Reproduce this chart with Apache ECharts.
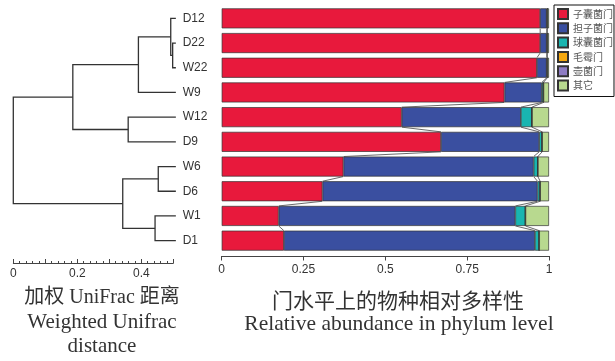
<!DOCTYPE html>
<html>
<head>
<meta charset="utf-8">
<script src="https://cdn.jsdelivr.net/npm/echarts@6/dist/echarts.min.js"></script>
<style>
html,body{margin:0;padding:0;background:#fff;}
#chart{width:615px;height:361px;}
</style>
</head>
<body>
<div id="chart"></div>
<script>
// ---- data ----
var samples = ['D12','D22','W22','W9','W12','D9','W6','D6','W1','D1'];
var phylumNames = ['子囊菌门','担子菌门','球囊菌门','毛霉门','壶菌门','其它'];
var phylumColors = ['#E8193C','#3A4FA0','#19B5B0','#F5A80F','#8E7CC3','#B8D98F'];
var ascomycota    = [0.973,0.973,0.963,0.864,0.550,0.670,0.372,0.308,0.174,0.190];
var basidiomycota = [0.020,0.020,0.030,0.114,0.364,0.300,0.581,0.657,0.723,0.767];
var glomeromycota = [0.002,0.002,0.002,0.005,0.034,0.009,0.013,0.008,0.031,0.013];
var mucoromycota  = [0,0,0,0,0,0,0,0,0,0];
var chytridiomycota = [0,0,0,0,0,0,0,0,0,0];
var others        = [0.005,0.005,0.005,0.017,0.052,0.021,0.034,0.027,0.072,0.030];
var phylumSeries = [ascomycota, basidiomycota, glomeromycota, mucoromycota, chytridiomycota, others];

// dendrogram (node ids: leaves 0..9 in sample order, merges 10..18)
var leafDistance = 0.508;
var mergeLeft   = [1, 0, 11, 4, 12, 6, 8, 15, 14];
var mergeRight  = [2, 10, 3, 5, 13, 7, 9, 16, 17];
var mergeHeight = [0.498, 0.492, 0.391, 0.359, 0.186, 0.453, 0.443, 0.342, 0.0];
var distTicks = [0, 0.2, 0.4];

// ---- helpers ----
var nodeY = [], nodeX = [];
for (var i = 0; i < samples.length; i++) { nodeY.push(i); nodeX.push(leafDistance); }
for (var m = 0; m < mergeHeight.length; m++) {
  nodeY.push((nodeY[mergeLeft[m]] + nodeY[mergeRight[m]]) / 2);
  nodeX.push(mergeHeight[m]);
}
function cumAt(sampleIdx, upto) {
  var s = 0;
  for (var k = 0; k <= upto; k++) s += phylumSeries[k][sampleIdx];
  return s;
}

var chart = echarts.init(document.getElementById('chart'), null, {renderer:'canvas'});
var axisCol = '#444';
var series = [];
phylumNames.forEach(function(name, k){
  series.push({
    name: name, type: 'bar', stack: 'total', xAxisIndex: 0, yAxisIndex: 0,
    barWidth: '81%', data: phylumSeries[k],
    itemStyle: {color: phylumColors[k], borderColor: '#333', borderWidth: 0.7},
    emphasis: {disabled: true}, animation: false
  });
});
// connectors between adjacent bars
var connIdx = [];
for (var c = 0; c < samples.length - 1; c++) connIdx.push([c]);
series.push({
  type: 'custom', xAxisIndex: 0, yAxisIndex: 0, data: connIdx, silent: true, animation: false, z: 3,
  renderItem: function(params, api){
    var i = params.dataIndex;
    var half = api.size([0, 1])[1] * 0.405;
    var children = [];
    [0, 1, 2].forEach(function(k){
      var a = api.coord([cumAt(i, k), i]);
      var b = api.coord([cumAt(i + 1, k), i + 1]);
      children.push({type:'line', shape:{x1:a[0], y1:a[1] + half, x2:b[0], y2:b[1] - half},
        style:{stroke:'#444', lineWidth:0.8}});
    });
    return {type:'group', children: children};
  }
});
// dendrogram
var mergeIdx = [];
for (var q = 0; q < mergeHeight.length; q++) mergeIdx.push([mergeHeight[q]]);
series.push({
  type: 'custom', xAxisIndex: 1, yAxisIndex: 1, data: mergeIdx, silent: true, animation: false, clip: false,
  renderItem: function(params, api){
    var m = params.dataIndex;
    var l = mergeLeft[m], r = mergeRight[m], h = mergeHeight[m];
    var p1 = api.coord([nodeX[l], nodeY[l]]);
    var p2 = api.coord([h, nodeY[l]]);
    var p3 = api.coord([h, nodeY[r]]);
    var p4 = api.coord([nodeX[r], nodeY[r]]);
    return {type:'polyline', shape:{points:[p1,p2,p3,p4]},
      style:{stroke:'#333', lineWidth:1.3, fill:null}};
  }
});

var option = {
  backgroundColor: '#fff',
  animation: false,
  legend: {
    data: phylumNames, orient: 'vertical', left: 554, top: 5,
    itemWidth: 10, itemHeight: 10, itemGap: 2.3, icon: 'rect',
    padding: [3, 1, 5, 3], borderColor: '#111', borderWidth: 1,
    textStyle: {fontSize: 10, color: '#555', fontFamily: 'Noto Sans CJK SC'},
    selectedMode: false
  },
  grid: [
    {left: 221.7, width: 327.3, top: 6, height: 247},
    {left: 13.3, width: 160, top: 6, height: 247}
  ],
  xAxis: [
    {type:'value', gridIndex:0, position:'bottom', min:0, max:1, interval:0.25, offset: 3,
     axisLine:{show:true, lineStyle:{color:axisCol, width:1}},
     axisTick:{show:true, length:4.5, lineStyle:{color:axisCol}},
     axisLabel:{color:'#333', fontSize:12, fontFamily:'Liberation Sans', margin:8},
     splitLine:{show:false}},
    {type:'value', gridIndex:1, position:'bottom', min:0, max:0.5, interval:0.1, offset: 10,
     axisLine:{show:true, onZero:false, lineStyle:{color:axisCol, width:1}},
     axisTick:{show:true, inside:true, length:4, lineStyle:{color:axisCol}},
     minorTick:{show:true, splitNumber:5, length:2, lineStyle:{color:axisCol}},
     axisLabel:{color:'#333', fontSize:12, fontFamily:'Liberation Sans', margin:5,
       formatter:function(v){
         for (var t = 0; t < distTicks.length; t++) if (Math.abs(v - distTicks[t]) < 1e-6) return String(distTicks[t]);
         return '';
       }},
     splitLine:{show:false}}
  ],
  yAxis: [
    {type:'category', gridIndex:0, data: samples, inverse:true,
     axisLine:{show:false}, axisTick:{show:false},
     axisLabel:{align:'left', margin:39, color:'#333', fontSize:12, fontFamily:'Liberation Sans'}},
    {type:'value', gridIndex:1, min:-0.5, max:9.5, inverse:true, show:false,
     axisLine:{show:false, onZero:false}}
  ],
  series: series,
  graphic: [
    {type:'text', x: 102, y: 298, style:{text:'加权 UniFrac 距离', x:0, y:0, align:'center', verticalAlign:'middle',
      font:'20px "Liberation Serif", "Noto Sans CJK SC"', fill:'#333'}},
    {type:'text', x: 102, y: 322, style:{text:'Weighted Unifrac', x:0, y:0, align:'center', verticalAlign:'middle',
      font:'21px "Liberation Serif"', fill:'#333'}},
    {type:'text', x: 102, y: 346, style:{text:'distance', x:0, y:0, align:'center', verticalAlign:'middle',
      font:'21px "Liberation Serif"', fill:'#333'}},
    {type:'text', x: 398, y: 300, style:{text:'门水平上的物种相对多样性', x:0, y:0, align:'center', verticalAlign:'middle',
      font:'21px "Noto Sans CJK SC"', fill:'#333'}},
    {type:'text', x: 399, y: 324, style:{text:'Relative abundance in phylum level', x:0, y:0, align:'center', verticalAlign:'middle',
      font:'21.5px "Liberation Serif"', fill:'#333'}}
  ]
};
chart.setOption(option);
</script>
</body>
</html>
